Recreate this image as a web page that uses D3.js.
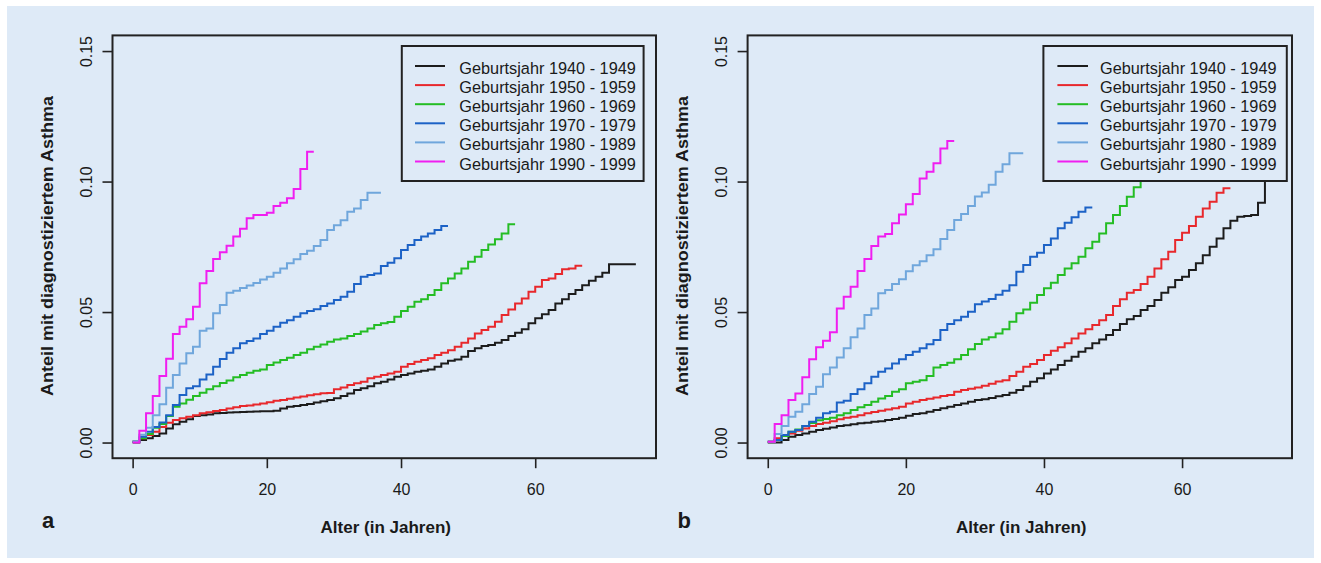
<!DOCTYPE html>
<html>
<head>
<meta charset="utf-8">
<script src="https://cdn.jsdelivr.net/npm/d3@7"></script>
<style>
  body { margin: 0; background: #fff; }
  svg { display: block; }
  text { font-family: "Liberation Sans", Arial, sans-serif; fill: #1a1a1a; }
  .title { font-family: "Liberation Sans Narrow", "Liberation Sans", Arial, sans-serif; font-weight: bold; }
</style>
</head>
<body>
<div id="chart"></div>
<script>
// cohorts (legend labels) and line colours
var cohorts = ['Geburtsjahr 1940 - 1949', 'Geburtsjahr 1950 - 1959', 'Geburtsjahr 1960 - 1969',
               'Geburtsjahr 1970 - 1979', 'Geburtsjahr 1980 - 1989', 'Geburtsjahr 1990 - 1999'];
var colors = ['#1c1c1c', '#e8282c', '#24bd24', '#1c62c6', '#6fa6dc', '#f01ef0'];

var xTicks = [0, 20, 40, 60];
var yTicks = [0, 0.05, 0.10, 0.15];
var yTickLabels = ['0.00', '0.05', '0.10', '0.15'];
var panelLetters = ['a', 'b'];

// cumulative share per year of age (index = age), panel a
var blackA = [0, 0.001, 0.0016, 0.0025, 0.0035, 0.0054, 0.007, 0.008, 0.0089, 0.0102,
  0.0105, 0.0107, 0.0112, 0.0113, 0.0115, 0.0116, 0.0117, 0.0118, 0.0119, 0.012,
  0.012, 0.0122, 0.013, 0.0137, 0.014, 0.0144, 0.0148, 0.0153, 0.0158, 0.0163,
  0.017, 0.0178, 0.0188, 0.0201, 0.0208, 0.0216, 0.0227, 0.0233, 0.0242, 0.0252,
  0.0259, 0.0265, 0.0271, 0.0275, 0.028, 0.029, 0.0303, 0.0313, 0.0318, 0.0329,
  0.0351, 0.0361, 0.037, 0.0374, 0.0382, 0.0393, 0.0408, 0.0421, 0.0434, 0.0457,
  0.0476, 0.0492, 0.0508, 0.0533, 0.0549, 0.0569, 0.0584, 0.0603, 0.062, 0.0635,
  0.0651, 0.0683];
var redA = [0.0005, 0.0016, 0.0029, 0.0041, 0.006, 0.0076, 0.0086, 0.0093, 0.0099, 0.0105,
  0.0112, 0.0116, 0.0121, 0.0125, 0.013, 0.0135, 0.014, 0.0142, 0.0146, 0.015,
  0.0154, 0.016, 0.0163, 0.0168, 0.0173, 0.0176, 0.0181, 0.0185, 0.0189, 0.019,
  0.0204, 0.0211, 0.022, 0.0227, 0.0233, 0.0246, 0.0252, 0.0259, 0.0265, 0.0271,
  0.029, 0.0301, 0.031, 0.0316, 0.0323, 0.0335, 0.0344, 0.0354, 0.0367, 0.0382,
  0.0399, 0.0418, 0.0431, 0.0444, 0.0463, 0.0489, 0.051, 0.0533, 0.0552, 0.0578,
  0.0597, 0.0623, 0.0629, 0.0646, 0.0664, 0.0667, 0.0677];
var greenA = [0.0003, 0.0016, 0.0033, 0.0057, 0.0071, 0.0102, 0.0137, 0.015, 0.0164, 0.0178,
  0.0191, 0.0204, 0.0216, 0.0228, 0.0238, 0.025, 0.0259, 0.0267, 0.0275, 0.028,
  0.0297, 0.0307, 0.0316, 0.0325, 0.0335, 0.0344, 0.0357, 0.0367, 0.0376, 0.0386,
  0.0395, 0.0399, 0.0408, 0.0416, 0.0425, 0.0437, 0.045, 0.0457, 0.0462, 0.0482,
  0.0504, 0.052, 0.0539, 0.0549, 0.0565, 0.0584, 0.061, 0.0629, 0.0648, 0.0667,
  0.0693, 0.0712, 0.0738, 0.0759, 0.0779, 0.0801, 0.0836];
var blueA = [0.0003, 0.0022, 0.0041, 0.006, 0.0077, 0.0105, 0.0144, 0.0182, 0.0208, 0.0216,
  0.0242, 0.0261, 0.029, 0.032, 0.0344, 0.0361, 0.038, 0.0389, 0.0399, 0.0416,
  0.0428, 0.0444, 0.0459, 0.0469, 0.0482, 0.0495, 0.0504, 0.0511, 0.0523, 0.0533,
  0.0546, 0.0559, 0.0578, 0.0607, 0.0635, 0.0642, 0.0648, 0.0676, 0.0689, 0.0706,
  0.0738, 0.0757, 0.0776, 0.0789, 0.0801, 0.0814, 0.083];
var lightblueA = [0.0005, 0.003, 0.0057, 0.0105, 0.0147, 0.021, 0.0259, 0.0303, 0.0342, 0.0367,
  0.0428, 0.0437, 0.0495, 0.0527, 0.0574, 0.0582, 0.0592, 0.0602, 0.0611, 0.0625,
  0.0635, 0.0651, 0.0667, 0.0687, 0.0702, 0.0722, 0.0735, 0.0753, 0.0776, 0.0814,
  0.0833, 0.0852, 0.0884, 0.0897, 0.0929, 0.0957];
var pinkA = [0, 0.0045, 0.0112, 0.0178, 0.0255, 0.0321, 0.0416, 0.0444, 0.0472, 0.052,
  0.061, 0.0657, 0.0703, 0.0729, 0.0754, 0.0789, 0.0819, 0.0859, 0.0872, 0.0872,
  0.088, 0.0906, 0.0919, 0.0936, 0.0971, 0.1048, 0.1114];
var endAgesA = [75, 67, 57, 47, 37, 27];

// panel b
var blackB = [0, 0, 0.001, 0.0022, 0.0029, 0.0035, 0.0041, 0.0048, 0.0053, 0.0058,
  0.0063, 0.0066, 0.007, 0.0074, 0.0076, 0.008, 0.0082, 0.0086, 0.009, 0.0095,
  0.0103, 0.0109, 0.0112, 0.0118, 0.0125, 0.0131, 0.0137, 0.0144, 0.015, 0.0156,
  0.0163, 0.0166, 0.0171, 0.0177, 0.0182, 0.0191, 0.0201, 0.0216, 0.0233, 0.0246,
  0.0265, 0.028, 0.0297, 0.0313, 0.0329, 0.0348, 0.0361, 0.038, 0.0395, 0.0412,
  0.0431, 0.0454, 0.0472, 0.0485, 0.0508, 0.0523, 0.0546, 0.0574, 0.0595, 0.0623,
  0.0635, 0.0661, 0.0687, 0.0718, 0.075, 0.0782, 0.0821, 0.085, 0.0865, 0.0868,
  0.0872, 0.0919, 0.106];
var redB = [0.0003, 0.0016, 0.0029, 0.0035, 0.0045, 0.0054, 0.0063, 0.0071, 0.0076, 0.0082,
  0.0089, 0.0095, 0.0099, 0.0105, 0.0112, 0.0117, 0.0122, 0.0127, 0.0131, 0.0137,
  0.015, 0.0156, 0.0163, 0.0168, 0.0173, 0.0178, 0.0182, 0.0195, 0.0201, 0.0206,
  0.0211, 0.0218, 0.0225, 0.0234, 0.0239, 0.0255, 0.0271, 0.029, 0.0301, 0.0316,
  0.0335, 0.0352, 0.0365, 0.038, 0.0399, 0.0418, 0.0434, 0.045, 0.0469, 0.0489,
  0.0523, 0.0549, 0.0574, 0.0584, 0.0607, 0.0635, 0.0667, 0.0702, 0.0731, 0.0776,
  0.0804, 0.083, 0.0865, 0.0897, 0.0923, 0.0957, 0.0974];
var greenB = [0.0003, 0.001, 0.0025, 0.0041, 0.005, 0.0063, 0.0075, 0.0085, 0.009, 0.0095,
  0.0105, 0.0112, 0.0125, 0.0135, 0.0144, 0.0156, 0.0169, 0.0178, 0.0195, 0.0204,
  0.0227, 0.0233, 0.0239, 0.0255, 0.0288, 0.0297, 0.0306, 0.0319, 0.0335, 0.0357,
  0.0378, 0.0395, 0.0403, 0.0418, 0.0434, 0.0463, 0.0495, 0.051, 0.0536, 0.0565,
  0.0591, 0.0612, 0.0642, 0.0667, 0.0687, 0.0712, 0.0744, 0.0769, 0.0801, 0.084,
  0.0872, 0.0906, 0.0942, 0.0978, 0.1006, 0.104, 0.108];
var blueB = [0.0003, 0.001, 0.0029, 0.0041, 0.0048, 0.0063, 0.008, 0.0095, 0.0112, 0.0118,
  0.0153, 0.016, 0.0186, 0.0204, 0.0227, 0.0252, 0.0271, 0.0284, 0.0303, 0.0319,
  0.0335, 0.0348, 0.0361, 0.0377, 0.0393, 0.0431, 0.0454, 0.0469, 0.0482, 0.0501,
  0.053, 0.054, 0.055, 0.0566, 0.0582, 0.0603, 0.0654, 0.068, 0.0712, 0.0727,
  0.0757, 0.0782, 0.0821, 0.0842, 0.0863, 0.0884, 0.0901];
var lightblueB = [0.0003, 0.0033, 0.0063, 0.0099, 0.0118, 0.0147, 0.0186, 0.0214, 0.0262, 0.0288,
  0.0326, 0.0361, 0.0403, 0.0437, 0.0489, 0.0514, 0.0572, 0.0584, 0.0607, 0.0626,
  0.0656, 0.0679, 0.0695, 0.0718, 0.0741, 0.078, 0.0814, 0.0853, 0.0876, 0.0906,
  0.0943, 0.0958, 0.0988, 0.1038, 0.1066, 0.1108];
var pinkB = [0.0003, 0.0071, 0.0105, 0.0163, 0.0188, 0.025, 0.0319, 0.0365, 0.039, 0.0423,
  0.0514, 0.0559, 0.0597, 0.0657, 0.0703, 0.0753, 0.0789, 0.0799, 0.084, 0.0874,
  0.0913, 0.0952, 0.1012, 0.1038, 0.107, 0.1127, 0.1155];
var endAgesB = [73, 67, 57, 47, 37, 27];

var seriesA = [blackA, redA, greenA, blueA, lightblueA, pinkA];
var seriesB = [blackB, redB, greenB, blueB, lightblueB, pinkB];

var W = 1321, H = 563, bg = '#deeaf7';

// panel layout (pixel boxes), not data
var panels = [
  { series: seriesA, ends: endAgesA, xDomain: [-3, 78], box: [112.5, 656, 35.4, 458.2],
    legend: [401.8, 643.6, 46, 181], legLine: [415, 445], legText: 459.3, letterX: 42 },
  { series: seriesB, ends: endAgesB, xDomain: [-2.92, 75.92], box: [747.6, 1292, 35.4, 458.2],
    legend: [1043.4, 1286.8, 46, 181], legLine: [1057.4, 1088], legText: 1100, letterX: 677.5 }
];

var svg = d3.select('#chart').append('svg').attr('width', W).attr('height', H);
svg.append('rect').attr('x', 7).attr('y', 6).attr('width', 1307).attr('height', 552).attr('fill', bg);

panels.forEach(function(p, pi) {
  var b = p.box;
  var x = d3.scaleLinear().domain(p.xDomain).range([b[0], b[1]]);
  var y = d3.scaleLinear().domain([-0.006, 0.156]).range([b[3], b[2]]);
  var g = svg.append('g');

  // step curves
  var line = d3.line()
    .x(function(d) { return x(d[0]); })
    .y(function(d) { return y(d[1]); })
    .curve(d3.curveStepAfter);
  p.series.forEach(function(vals, i) {
    var pts = vals.map(function(v, age) { return [age, v]; });
    pts.push([p.ends[i], vals[vals.length - 1]]);
    g.append('path').attr('d', line(pts))
      .attr('fill', 'none').attr('stroke', colors[i]).attr('stroke-width', 2)
      .attr('stroke-linejoin', 'miter');
  });

  // box
  g.append('rect').attr('x', b[0]).attr('y', b[2]).attr('width', b[1] - b[0]).attr('height', b[3] - b[2])
    .attr('fill', 'none').attr('stroke', '#222').attr('stroke-width', 2);

  // x axis
  var xa = g.append('g').attr('transform', 'translate(0,' + b[3] + ')')
    .call(d3.axisBottom(x).tickValues(xTicks).tickSize(10).tickFormat(d3.format('d')));
  xa.select('.domain').remove();
  xa.selectAll('line').attr('stroke', '#222').attr('stroke-width', 1.6);
  xa.selectAll('text').attr('y', 37).attr('dy', null)
    .style('font-size', '16px').style('font-family', '"Liberation Sans", Arial, sans-serif').attr('fill', '#222');

  // y axis
  var ya = g.append('g').attr('transform', 'translate(' + b[0] + ',0)')
    .call(d3.axisLeft(y).tickValues(yTicks).tickSize(10).tickFormat(function(d, i) { return yTickLabels[i]; }));
  ya.select('.domain').remove();
  ya.selectAll('line').attr('stroke', '#222').attr('stroke-width', 1.6);
  ya.selectAll('text').attr('x', 0).attr('y', -20.8).attr('dy', null)
    .attr('transform', 'rotate(-90)').attr('text-anchor', 'middle')
    .style('font-size', '16px').style('font-family', '"Liberation Sans", Arial, sans-serif').attr('fill', '#222');

  // axis titles
  var cx = (b[0] + b[1]) / 2, cy = 246;
  g.append('text').attr('class', 'title')
    .attr('transform', 'translate(' + (b[0] - 59.8) + ',' + cy + ') rotate(-90)')
    .attr('text-anchor', 'middle').style('font-size', '16.5px')
    .attr('textLength', 300).attr('lengthAdjust', 'spacingAndGlyphs')
    .text('Anteil mit diagnostiziertem Asthma');
  g.append('text').attr('class', 'title')
    .attr('x', cx + 1.5).attr('y', 532.7).attr('text-anchor', 'middle').style('font-size', '16.5px')
    .attr('textLength', 130.5).attr('lengthAdjust', 'spacingAndGlyphs')
    .text('Alter (in Jahren)');
  g.append('text').attr('class', 'title').attr('x', p.letterX).attr('y', 528)
    .style('font-size', '22px').text(panelLetters[pi]);

  // legend
  var L = p.legend;
  var lg = g.append('g');
  lg.append('rect').attr('x', L[0]).attr('y', L[2]).attr('width', L[1] - L[0]).attr('height', L[3] - L[2])
    .attr('fill', bg).attr('stroke', '#222').attr('stroke-width', 2);
  cohorts.forEach(function(c, i) {
    var ly = 66 + i * 19.1;
    lg.append('line').attr('x1', p.legLine[0]).attr('x2', p.legLine[1]).attr('y1', ly).attr('y2', ly)
      .attr('stroke', colors[i]).attr('stroke-width', 2);
    lg.append('text').attr('x', p.legText).attr('y', ly + 8).style('font-size', '16.3px').text(c);
  });
});
</script>
</body>
</html>
